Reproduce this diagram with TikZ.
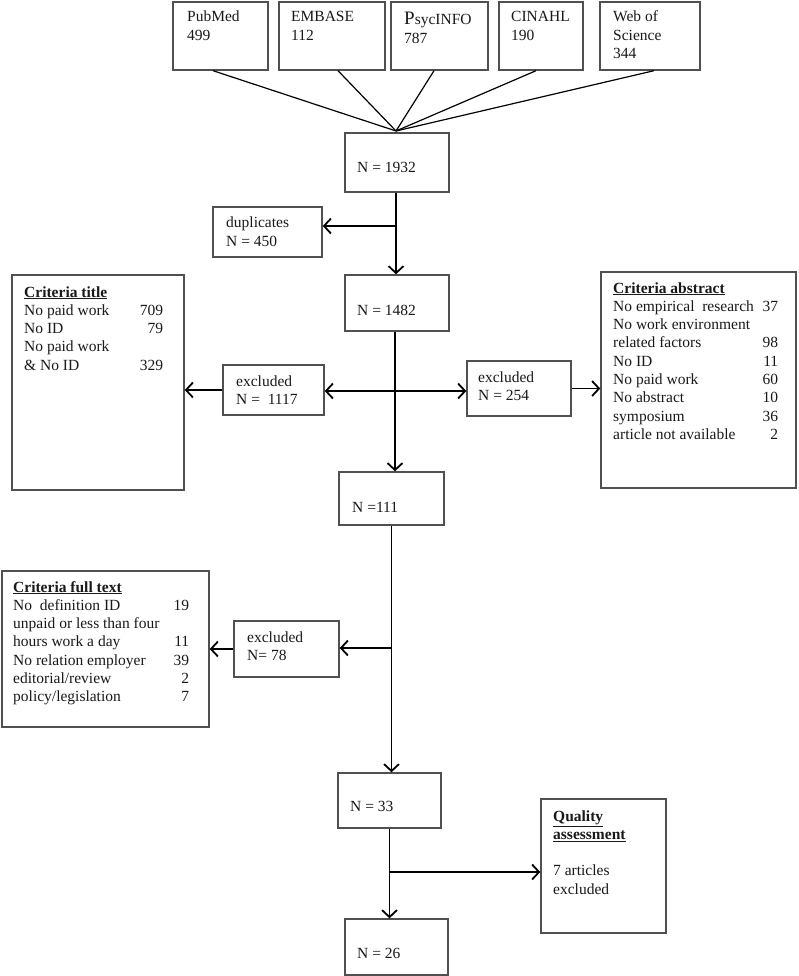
\documentclass[tikz,border=0pt]{standalone}
\usepackage{fontspec}
\setmainfont{Liberation Serif}
\usetikzlibrary{arrows.meta}
\definecolor{boxgray}{HTML}{505050}
\newcommand{\myfs}{\fontsize{15.5pt}{18.3pt}\selectfont}
\newcommand{\myhd}[1]{\underline{\textbf{#1}}}
\newcommand{\myrow}[3]{\hbox to #1{#2\hfill #3}}
\begin{document}
\begin{tikzpicture}[x=1pt, y=-1pt,
  box/.style={draw=boxgray, line width=1.4pt, rectangle, inner sep=0pt},
  txt/.style={inner sep=0pt, anchor=base west, align=left, font=\myfs, text=black!90},
  arr/.style={line width=1.8pt, -{Straight Barb[length=7pt,width=15pt]}},
  link/.style={line width=1.2pt}]
\path[fill=white, use as bounding box] (0,0) rectangle (798,976);

% sources (text nodes are anchored at the baseline of their last line)
\node[box, minimum width=95pt, minimum height=68pt] (pub) at (220.5,36) {};
\node[txt] (pubT) at (187,40.3) {PubMed\\499};
\node[box, minimum width=106pt, minimum height=68pt] (emb) at (332,36) {};
\node[txt] (embT) at (291,40.3) {EMBASE\\112};
\node[box, minimum width=97pt, minimum height=68pt] (psy) at (439.5,36) {};
\node[txt] (psyT) at (404,43.3) {{\fontsize{19pt}{18.3pt}\selectfont P}sycINFO\\787};
\node[box, minimum width=84pt, minimum height=68pt] (cin) at (541,36) {};
\node[txt] (cinT) at (511,40.3) {CINAHL\\190};
\node[box, minimum width=100pt, minimum height=68pt] (wos) at (650,36) {};
\node[txt] (wosT) at (613,58.6) {Web of\\Science\\344};

% main column
\node[box, minimum width=104pt, minimum height=59pt] (n1932) at (397,162.5) {};
\node[txt] (n1932T) at (357,172.5) {N = 1932};
\node[box, minimum width=109pt, minimum height=50pt] (dup) at (267.5,232) {};
\node[txt] (dupT) at (226,246.3) {duplicates\\N = 450};
\node[box, minimum width=104pt, minimum height=56pt] (n1482) at (397,303) {};
\node[txt] (n1482T) at (357,315) {N = 1482};
\node[box, minimum width=172pt, minimum height=215pt] (ctitle) at (98,382.5) {};
\node[txt] (ctitleT) at (24,370.2) {\myhd{Criteria title}\\
  \myrow{139pt}{No paid work}{709}\\
  \myrow{139pt}{No ID}{79}\\
  No paid work\\
  \myrow{139pt}{\& No ID}{329}};
\node[box, minimum width=101pt, minimum height=50pt] (ex1117) at (273.5,390) {};
\node[txt] (ex1117T) at (236,404.3) {excluded\\N =\ \ 1117};
\node[box, minimum width=104pt, minimum height=55pt] (ex254) at (519,388.5) {};
\node[txt] (ex254T) at (478,400.3) {excluded\\N = 254};
\node[box, minimum width=195pt, minimum height=216pt] (cabs) at (698.5,380) {};
\node[txt] (cabsT) at (613,439.4) {\myhd{Criteria abstract}\\
  \myrow{165pt}{No empirical\ \ research}{37}\\
  No work environment\\
  \myrow{165pt}{related factors}{98}\\
  \myrow{165pt}{No ID}{11}\\
  \myrow{165pt}{No paid work}{60}\\
  \myrow{165pt}{No abstract}{10}\\
  \myrow{165pt}{symposium}{36}\\
  \myrow{165pt}{article not available}{2}};
\node[box, minimum width=105pt, minimum height=53pt] (n111) at (391.5,498.5) {};
\node[txt] (n111T) at (352,512) {N =111};
\node[box, minimum width=207pt, minimum height=156pt] (cfull) at (105.5,649) {};
\node[txt] (cfullT) at (13,701.8) {\myhd{Criteria full text}\\
  \myrow{176pt}{No\ \ definition ID}{19}\\
  unpaid or less than four\\
  \myrow{176pt}{hours work a day}{11}\\
  \myrow{176pt}{No relation employer}{39}\\
  \myrow{176pt}{editorial/review}{2}\\
  \myrow{176pt}{policy/legislation}{7}};
\node[box, minimum width=105pt, minimum height=56pt] (ex78) at (286.5,649) {};
\node[txt] (ex78T) at (247,660.3) {excluded\\N= 78};
\node[box, minimum width=103pt, minimum height=55pt] (n33) at (389.5,800.5) {};
\node[txt] (n33T) at (350,811) {N = 33};
\node[box, minimum width=125pt, minimum height=134pt] (qual) at (603.5,866) {};
\node[txt] (qualT) at (553,894.2) {\myhd{Quality}\\\myhd{assessment}\\[18.3pt]7 articles\\excluded};
\node[box, minimum width=103pt, minimum height=56pt] (n26) at (396.5,947) {};
\node[txt] (n26T) at (357,958) {N = 26};

% converging lines
\coordinate (conv) at (396,131);
\draw[link] ([xshift=-7.5pt]pub.south) -- (conv);
\draw[link] ([xshift=6pt]emb.south) -- (conv);
\draw[link] ([xshift=-5.5pt]psy.south) -- (conv);
\draw[link] ([xshift=-5pt]cin.south) -- (conv);
\draw[link] ([xshift=4pt]wos.south) -- (conv);

% flow
\draw[arr] ([xshift=-1pt]n1932.south) -- ([xshift=-1pt]n1932.south |- n1482.north);
\coordinate (b1) at (396,226);
\draw[arr] (b1) -- (b1 -| dup.east);

\draw[arr] ([xshift=-2pt]n1482.south) -- ([xshift=-2pt]n1482.south |- n111.north);
\coordinate (b2) at (395,391);
\draw[arr] (b2) -- (b2 -| ex1117.east);
\draw[arr] (b2) -- (b2 -| ex254.west);
\draw[arr] (ex1117.west) -- (ex1117.west -| ctitle.east);
\draw[arr] (ex254.east) -- (ex254.east -| cabs.west);

\draw[arr] (n111.south) -- (n111.south |- n33.north);
\coordinate (b3) at (391.5,648);
\draw[arr] (b3) -- (b3 -| ex78.east);
\draw[arr] (ex78.west) -- (ex78.west -| cfull.east);

\draw[arr] (n33.south) -- (n33.south |- n26.north);
\coordinate (b4) at (389.5,872);
\draw[arr] (b4) -- (b4 -| qual.west);
\end{tikzpicture}
\end{document}
